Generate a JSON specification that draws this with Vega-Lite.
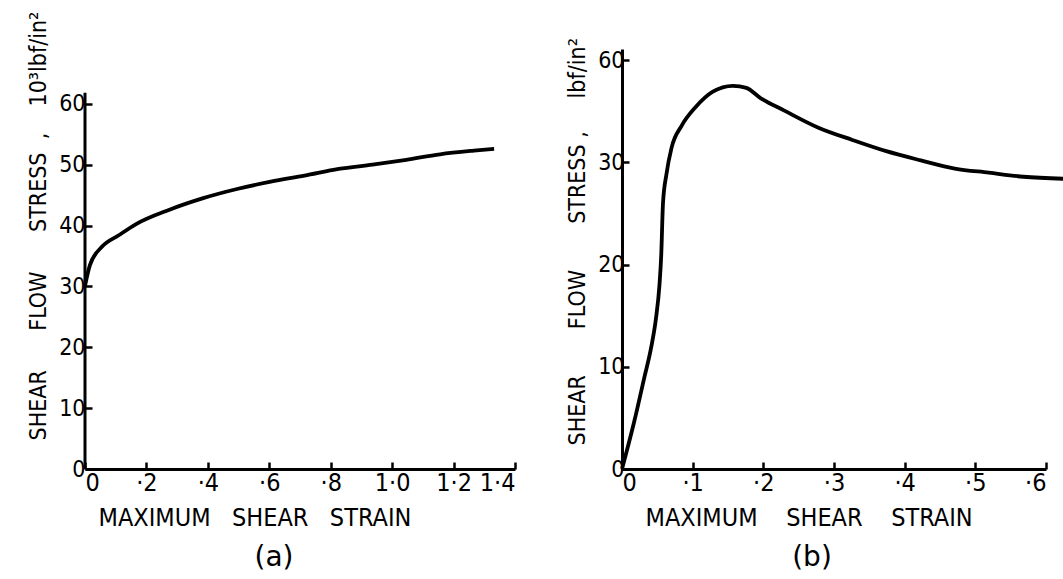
{
  "$schema": "https://vega.github.io/schema/vega-lite/v6.json",
  "background": "white",
  "padding": {"left": 27, "top": 11, "right": 5, "bottom": 2},
  "spacing": 107,
  "bounds": "flush",
  "config": {
    "view": {"stroke": null},
    "font": "DejaVu Sans Condensed",
    "axis": {
      "grid": false,
      "domainColor": "black",
      "domainWidth": 3,
      "tickColor": "black",
      "tickWidth": 2.5,
      "tickSize": -7,
      "labelColor": "black",
      "labelFont": "DejaVu Sans Condensed",
      "labelFontWeight": "normal",
      "titleColor": "black",
      "titleFont": "DejaVu Sans Condensed",
      "titleFontWeight": "normal"
    }
  },
  "datasets": {
    "a": [
      {"strain": 0.0, "stress": 30.1},
      {"strain": 0.016, "stress": 33.5},
      {"strain": 0.055, "stress": 36.5},
      {"strain": 0.11, "stress": 38.4},
      {"strain": 0.165, "stress": 40.2},
      {"strain": 0.275, "stress": 42.6},
      {"strain": 0.385, "stress": 44.5},
      {"strain": 0.495, "stress": 46.0},
      {"strain": 0.605, "stress": 47.2},
      {"strain": 0.715, "stress": 48.2},
      {"strain": 0.826, "stress": 49.3},
      {"strain": 0.936, "stress": 50.0},
      {"strain": 1.046, "stress": 50.8},
      {"strain": 1.156, "stress": 51.7},
      {"strain": 1.266, "stress": 52.3},
      {"strain": 1.332, "stress": 52.6}
    ],
    "b": [
      {"strain": 0.0, "stress": 0.0},
      {"strain": 0.0168, "stress": 4.5},
      {"strain": 0.0314, "stress": 8.9},
      {"strain": 0.041, "stress": 11.8},
      {"strain": 0.048, "stress": 14.7},
      {"strain": 0.053, "stress": 18.0},
      {"strain": 0.0555, "stress": 20.9},
      {"strain": 0.058, "stress": 26.0},
      {"strain": 0.063, "stress": 28.9},
      {"strain": 0.07, "stress": 31.4},
      {"strain": 0.0845, "stress": 33.6},
      {"strain": 0.104, "stress": 35.4},
      {"strain": 0.128, "stress": 36.9},
      {"strain": 0.157, "stress": 37.5},
      {"strain": 0.176, "stress": 37.3},
      {"strain": 0.196, "stress": 36.3},
      {"strain": 0.229, "stress": 35.1},
      {"strain": 0.278, "stress": 33.4},
      {"strain": 0.326, "stress": 32.2},
      {"strain": 0.374, "stress": 31.1},
      {"strain": 0.423, "stress": 30.2},
      {"strain": 0.471, "stress": 29.4},
      {"strain": 0.519, "stress": 29.0},
      {"strain": 0.568, "stress": 28.6},
      {"strain": 0.625, "stress": 28.4}
    ]
  },
  "hconcat": [
    {
      "width": 430,
      "height": 420,
      "title": {"text": "(a)", "orient": "bottom", "anchor": "middle", "dx": -26, "offset": 14, "fontSize": 28, "fontWeight": "normal", "font": "DejaVu Sans", "color": "black"},
      "layer": [
        {
          "data": {"values": [{}]},
          "mark": {"type": "rule", "strokeWidth": 3, "color": "black"},
          "encoding": {
            "x": {"datum": 0, "type": "quantitative", "scale": {"domain": [0, 1.4], "nice": false}},
            "y": {"datum": 0, "type": "quantitative", "scale": {"domain": [0, 69], "nice": false}},
            "y2": {"datum": 61.8}
          }
        },
        {
          "data": {"name": "a"},
          "mark": {"type": "line", "color": "black", "strokeWidth": 3.8, "interpolate": "monotone", "clip": false},
          "encoding": {
            "x": {
              "field": "strain", "type": "quantitative",
              "scale": {"domain": [0, 1.4], "nice": false},
              "axis": {
                "values": [0, 0.2, 0.4, 0.6, 0.8, 1.0, 1.2, 1.4],
                "labelExpr": "datum.value == 0 ? '0' : (datum.value < 0.99 ? '·' + format(datum.value * 10, '.0f') : replace(format(datum.value, '.1f'), '.', '·'))",
                "labelFontSize": 25,
                "labelPadding": 8,
                "title": "MAXIMUM\u00a0\u00a0\u00a0SHEAR\u00a0\u00a0\u00a0STRAIN",
                "titleFontSize": 25,
                "titleAlign": "left",
                "titleAnchor": "start",
                "titleBaseline": "alphabetic",
                "titleX": 13,
                "titleY": 56
              }
            },
            "y": {
              "field": "stress", "type": "quantitative",
              "scale": {"domain": [0, 69], "nice": false},
              "axis": {
                "domain": false,
                "values": [0, 10, 20, 30, 40, 50, 60],
                "labelFontSize": 23,
                "labelPadding": 7,
                "title": "SHEAR\u00a0\u00a0\u00a0\u00a0\u00a0\u00a0FLOW\u00a0\u00a0\u00a0\u00a0\u00a0\u00a0STRESS\u00a0\u00a0,\u00a0\u00a0\u00a0\u00a010³lbf/in²",
                "titleFontSize": 23,
                "titleAlign": "left",
                "titleAnchor": "start",
                "titleBaseline": "alphabetic",
                "titleAngle": -90,
                "titleX": -40,
                "titleY": 391
              }
            }
          }
        }
      ]
    },
    {
      "width": 424,
      "height": 420,
      "title": {"text": "(b)", "orient": "bottom", "anchor": "middle", "dx": -22, "offset": 14, "fontSize": 28, "fontWeight": "normal", "font": "DejaVu Sans", "color": "black"},
      "data": {"name": "b"},
      "mark": {"type": "line", "color": "black", "strokeWidth": 3.8, "interpolate": "monotone", "clip": false},
      "encoding": {
        "x": {
          "field": "strain", "type": "quantitative",
          "scale": {"domain": [0, 0.6], "nice": false},
          "axis": {
            "values": [0, 0.1, 0.2, 0.3, 0.4, 0.5, 0.6],
            "labelExpr": "datum.value == 0 ? '0' : '·' + format(datum.value * 10, '.0f')",
            "labelFontSize": 25,
            "labelPadding": 8,
            "title": "MAXIMUM\u00a0\u00a0\u00a0\u00a0SHEAR\u00a0\u00a0\u00a0\u00a0STRAIN",
            "titleFontSize": 25,
            "titleAlign": "left",
            "titleAnchor": "start",
            "titleBaseline": "alphabetic",
            "titleX": 23,
            "titleY": 56
          }
        },
        "y": {
          "field": "stress", "type": "quantitative",
          "scale": {"domain": [0, 41.1], "nice": false},
          "axis": {
            "values": [0, 10, 20, 30, 40],
            "labelExpr": "datum.value == 40 ? '60' : datum.label",
            "labelFontSize": 23,
            "labelPadding": 5,
            "title": "SHEAR\u00a0\u00a0\u00a0\u00a0\u00a0\u00a0\u00a0FLOW\u00a0\u00a0\u00a0\u00a0\u00a0\u00a0\u00a0STRESS\u00a0,\u00a0\u00a0\u00a0\u00a0\u00a0lbf/in²",
            "titleFontSize": 23,
            "titleAlign": "left",
            "titleAnchor": "start",
            "titleBaseline": "alphabetic",
            "titleAngle": -90,
            "titleX": -38,
            "titleY": 396
          }
        }
      }
    }
  ]
}
